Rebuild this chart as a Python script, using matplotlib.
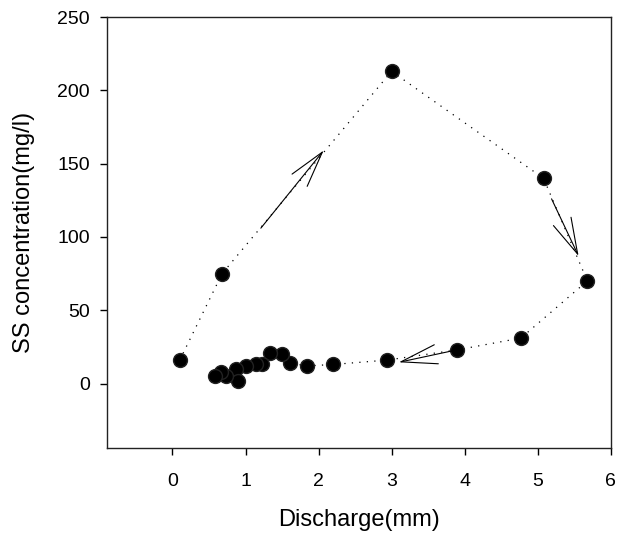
import matplotlib
matplotlib.use('Agg')
import matplotlib.pyplot as plt

plt.rcParams['font.family'] = ['Liberation Sans', 'DejaVu Sans']

# hysteresis loop: discharge (mm) vs SS concentration (mg/l), in event order
discharge = [0.10, 0.68, 3.00, 5.08, 5.68, 4.77, 3.90, 2.94, 2.20, 1.84, 1.61,
             1.50, 1.34, 1.22, 1.14, 1.00, 0.87, 0.90, 0.73, 0.67, 0.58]
ss_conc = [16, 75, 213, 140, 70, 31, 23, 16, 13, 12, 14,
           20, 21, 13, 13, 12, 10, 2, 5, 8, 5]

# direction arrows (tail -> tip)
arrow_tails = [(1.21, 106), (5.19, 126), (3.85, 22.5)]
arrow_tips = [(2.07, 159), (5.56, 87), (3.10, 14.5)]

x_ticks = [0, 1, 2, 3, 4, 5, 6]
y_ticks = [0, 50, 100, 150, 200, 250]

fig = plt.figure(figsize=(6.33, 5.34), dpi=100)
ax = fig.add_axes([0.1686, 0.161, 0.7962, 0.807])

ax.plot(discharge, ss_conc, color='black', lw=0.9, dashes=(1, 5),
        marker='o', markersize=10, markerfacecolor='black',
        markeredgecolor='#222222')

for tail, tip in zip(arrow_tails, arrow_tips):
    ax.annotate('', xy=tip, xytext=tail,
                arrowprops=dict(arrowstyle='->,head_length=2.6,head_width=0.7',
                                lw=0.8, color='black', shrinkA=0, shrinkB=0))

ax.set_xlim(-0.9, 6)
ax.set_ylim(-44, 250)
ax.set_xticks(x_ticks)
ax.set_yticks(y_ticks)
ax.tick_params(direction='out', length=5, width=1, labelsize=14)
ax.tick_params(axis='x', pad=13)
ax.tick_params(axis='y', pad=7)
for s in ax.spines.values():
    s.set_linewidth(1)
    s.set_color('#222222')

ax.set_xlabel('Discharge(mm)', fontsize=17, labelpad=14)
ax.set_ylabel('SS concentration(mg/l)', fontsize=17, labelpad=16)

fig.savefig('out.png', dpi=100)
